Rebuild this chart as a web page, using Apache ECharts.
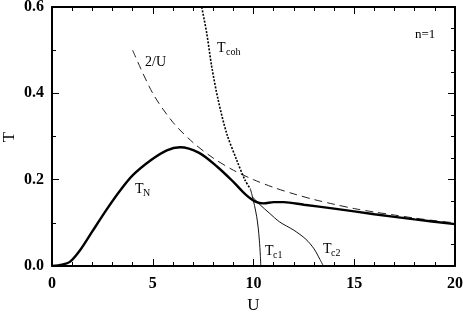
<!DOCTYPE html>
<html><head><meta charset="utf-8">
<script src="https://cdn.jsdelivr.net/npm/echarts@6/dist/echarts.min.js"></script>
<style>html,body{margin:0;padding:0;background:#fff}#c{width:463px;height:315px}</style>
</head><body><div id="c"></div>
<script>
// T_N (Néel temperature), thick solid
const tnU = [0, 0.5, 0.9, 1.4, 2.0, 2.7, 3.4, 4.0, 4.9, 5.7, 6.35, 7.3, 8.2, 9.0, 9.6, 10.1, 10.5, 11.0, 11.5, 12.5, 14, 16, 18, 20];
const tnT = [0, 0.003, 0.01, 0.037, 0.08, 0.13, 0.176, 0.21, 0.245, 0.268, 0.275, 0.262, 0.23, 0.195, 0.166, 0.149, 0.145, 0.148, 0.148, 0.142, 0.133, 0.12, 0.108, 0.097];
// 2/U asymptote, dashed
const asyU = [4, 5, 6, 7, 8, 9, 10, 11, 12, 13, 14, 15, 16, 17, 18, 19, 20];
const asyT = [0.5, 0.4, 0.333, 0.286, 0.25, 0.222, 0.2, 0.182, 0.167, 0.154, 0.143, 0.133, 0.125, 0.118, 0.111, 0.105, 0.1];
// T_coh, dotted
const cohU = [7.43, 7.68, 7.93, 8.25, 8.67, 9.17, 9.58, 9.85];
const cohT = [0.6, 0.539, 0.461, 0.384, 0.307, 0.245, 0.199, 0.178];
// T_c1, thin solid
const c1U = [9.85, 9.95, 10.05, 10.16, 10.23, 10.29, 10.34, 10.36];
const c1T = [0.178, 0.16, 0.14, 0.114, 0.09, 0.06, 0.025, 0];
// T_c2, thin solid
const c2U = [9.95, 10.3, 10.8, 11.3, 12.0, 12.6, 13.0, 13.3, 13.47];
const c2T = [0.16, 0.143, 0.122, 0.102, 0.083, 0.062, 0.04, 0.015, 0];
// ticks
const xTicks = [0, 5, 10, 15, 20];
const yTicks = [0.0, 0.2, 0.4, 0.6];

const zip = (a, b) => a.map((v, i) => [v, b[i]]);
const serif = '"Liberation Serif","DejaVu Serif",serif';
const chart = echarts.init(document.getElementById('c'), null, {renderer: 'canvas'});

function xAx(pos, labels) {
  return {
    type: 'value', position: pos, min: xTicks[0], max: xTicks[xTicks.length - 1], interval: 5,
    name: labels ? 'U' : '', nameLocation: 'middle', nameGap: 29,
    nameTextStyle: {fontFamily: serif, fontSize: 17, color: '#000'},
    axisLine: {show: true, onZero: false, lineStyle: {color: '#000', width: 2}},
    axisTick: {show: true, inside: true, length: 7, lineStyle: {color: '#000', width: 1}},
    minorTick: {show: true, splitNumber: 5, length: 4, lineStyle: {color: '#000', width: 1}},
    axisLabel: {show: labels, margin: 10, fontFamily: serif, fontWeight: 'bold', fontSize: 16, color: '#000'},
    splitLine: {show: false}, minorSplitLine: {show: false}
  };
}
function yAx(pos, labels, minorSplit) {
  return {
    type: 'value', position: pos, min: yTicks[0], max: yTicks[yTicks.length - 1], interval: 0.2,
    axisLine: {show: true, onZero: false, lineStyle: {color: '#000', width: 2}},
    axisTick: {show: true, inside: true, length: 7, lineStyle: {color: '#000', width: 1}},
    minorTick: {show: true, splitNumber: minorSplit, length: 4, lineStyle: {color: '#000', width: 1}},
    axisLabel: {show: labels, margin: 8, fontFamily: serif, fontWeight: 'bold', fontSize: 16, color: '#000',
      formatter: v => v.toFixed(1)},
    splitLine: {show: false}, minorSplitLine: {show: false}
  };
}

function lbl(x, y, text, size) {
  return {type: 'text', left: x, top: y, style: {text: text, fontFamily: serif, fontSize: size, fill: '#000'}};
}

chart.setOption({
  animation: false,
  backgroundColor: '#fff',
  grid: {left: 52, right: 8, top: 7, bottom: 49, containLabel: false, outerBoundsMode: 'none'},
  xAxis: [xAx('bottom', true), xAx('top', false)],
  yAxis: [yAx('left', true, 2), yAx('right', false, 4)],
  series: [
    {type: 'line', data: zip(asyU, asyT), smooth: 0.3, showSymbol: false,
      lineStyle: {color: '#222', width: 1, type: [8, 5]}},
    {type: 'line', data: zip(cohU, cohT), smooth: 0.3, showSymbol: false,
      lineStyle: {color: '#000', width: 1.6, type: [2, 1.5]}},
    {type: 'line', data: zip(c1U, c1T), smooth: 0.3, showSymbol: false,
      lineStyle: {color: '#111', width: 1}},
    {type: 'line', data: zip(c2U, c2T), smooth: 0.3, showSymbol: false,
      lineStyle: {color: '#111', width: 1}},
    {type: 'line', data: zip(tnU, tnT), smooth: 0.3, showSymbol: false,
      lineStyle: {color: '#000', width: 2.4}}
  ],
  graphic: [
    {type: 'text', x: 10, y: 137, rotation: Math.PI / 2,
      style: {text: 'T', fontFamily: serif, fontSize: 17, fill: '#000', align: 'center', verticalAlign: 'middle'}},
    lbl(145, 55, '2/U', 14),
    lbl(217, 41, 'T', 14), lbl(226, 47, 'coh', 10),
    lbl(415, 28, 'n=1', 13),
    lbl(135, 182, 'T', 14), lbl(143, 188, 'N', 10),
    lbl(265, 244, 'T', 14), lbl(273, 250, 'c1', 10),
    lbl(323, 242, 'T', 14), lbl(331, 248, 'c2', 10)
  ]
});
</script></body></html>
